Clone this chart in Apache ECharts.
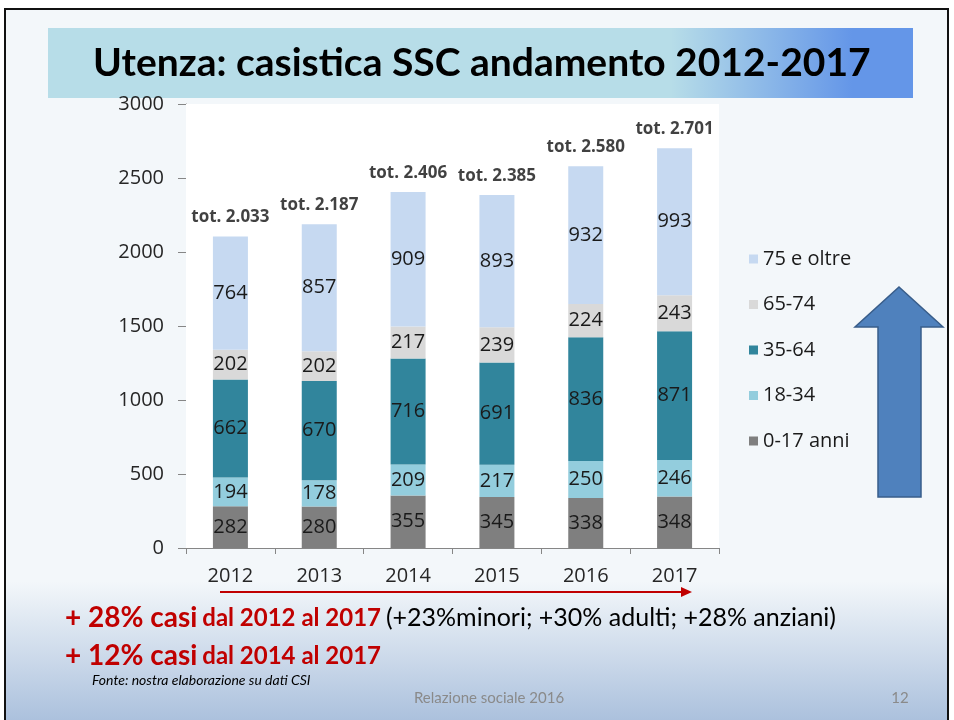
<!DOCTYPE html>
<html>
<head>
<meta charset="utf-8">
<script src="https://cdn.jsdelivr.net/npm/echarts@6/dist/echarts.min.js"></script>
<style>
html,body{margin:0;padding:0;background:#fff}
#main{width:954px;height:720px}
</style>
</head>
<body>
<div id="main"></div>
<script>
// dati
var anni = ['2012', '2013', '2014', '2015', '2016', '2017'];
var eta0_17 = [282, 280, 355, 345, 338, 348];
var eta18_34 = [194, 178, 209, 217, 250, 246];
var eta35_64 = [662, 670, 716, 691, 836, 871];
var eta65_74 = [202, 202, 217, 239, 224, 243];
var eta75 = [764, 857, 909, 893, 932, 993];
var totali = ['tot. 2.033', 'tot. 2.187', 'tot. 2.406', 'tot. 2.385', 'tot. 2.580', 'tot. 2.701'];
var fasce = ['0-17 anni', '18-34', '35-64', '65-74', '75 e oltre'];
var colori = ['#7f7f7f', '#93cddd', '#31859c', '#d9d9d9', '#c6d9f1'];

var fontChart = '"Open Sans", sans-serif';
var fontSlide = 'Lato, sans-serif';

var valori = [eta0_17, eta18_34, eta35_64, eta65_74, eta75];

// altezza della pila per posizionare le etichette "tot."
var pila = anni.map(function (a, i) {
    return [a, valori.reduce(function (s, v) { return s + v[i]; }, 0)];
});

var series = fasce.map(function (nome, k) {
    return {
        name: nome,
        type: 'bar',
        stack: 'utenza',
        barWidth: 35,
        data: valori[k],
        itemStyle: {color: colori[k]},
        label: {
            show: true,
            position: 'inside',
            color: '#1a1a1a',
            fontSize: 20,
            fontFamily: fontChart
        }
    };
});

series.push({
    name: 'totale',
    type: 'scatter',
    data: pila,
    symbolSize: 1,
    itemStyle: {color: 'rgba(0,0,0,0)'},
    label: {
        show: true,
        position: 'top',
        distance: 10,
        color: '#111',
        fontSize: 17,
        fontWeight: 'bold',
        fontFamily: fontChart,
        formatter: function (p) { return totali[p.dataIndex]; }
    },
    z: 5
});

var dom = document.getElementById('main');
var myChart = echarts.init(dom);

var option = {
    backgroundColor: '#ffffff',
    animation: false,
    grid: {
        left: 186, right: 235, top: 104, bottom: 172,
        show: true,
        backgroundColor: '#ffffff',
        borderWidth: 0,
        z: 1
    },
    legend: {
        orient: 'vertical',
        left: 744,
        top: 244,
        icon: 'rect',
        itemWidth: 9,
        itemHeight: 9,
        itemGap: 25.5,
        data: ['75 e oltre', '65-74', '35-64', '18-34', '0-17 anni'],
        textStyle: {fontSize: 20, color: '#1a1a1a', fontFamily: fontChart}
    },
    xAxis: {
        type: 'category',
        data: anni,
        axisLine: {lineStyle: {color: '#868686'}},
        axisTick: {show: true, length: 6, lineStyle: {color: '#868686'}},
        axisLabel: {color: '#262626', fontSize: 20, margin: 18, fontFamily: fontChart}
    },
    yAxis: {
        type: 'value',
        min: 0,
        max: 3000,
        interval: 500,
        axisLine: {show: true, lineStyle: {color: '#868686'}},
        axisTick: {show: true, length: 8, lineStyle: {color: '#868686'}},
        splitLine: {lineStyle: {color: '#8c8c8c'}},
        axisLabel: {
            color: '#262626', fontSize: 20, margin: 22, fontFamily: fontChart,
            formatter: function (v) { return String(v); }
        }
    },
    series: series,
    graphic: [
        {
            type: 'rect', z: -100, silent: true,
            shape: {x: 5, y: 9, width: 943, height: 715},
            style: {
                fill: new echarts.graphic.LinearGradient(0, 0, 0, 1, [
                    {offset: 0, color: '#f3f7fa'},
                    {offset: 0.8, color: '#f3f7fa'},
                    {offset: 1, color: '#a9bfdc'}
                ]),
                stroke: '#111', lineWidth: 2
            }
        },
        {
            type: 'rect', z: -90, silent: true,
            shape: {x: 48, y: 28, width: 865, height: 70},
            style: {
                fill: new echarts.graphic.LinearGradient(0, 0, 1, 0, [
                    {offset: 0, color: '#b7dde8'},
                    {offset: 0.72, color: '#b7dde8'},
                    {offset: 0.93, color: '#6496e8'},
                    {offset: 1, color: '#6496e8'}
                ])
            }
        },
        {
            type: 'text', z: 10,
            style: {
                x: 93, y: 63, text: 'Utenza: casistica SSC andamento 2012-2017',
                font: 'bold 39px ' + fontSlide, fill: '#000', textVerticalAlign: 'middle'
            }
        },
        // freccia rossa sotto l'asse
        {
            type: 'line', z: 10,
            shape: {x1: 220, y1: 592, x2: 684, y2: 592},
            style: {stroke: '#c00000', lineWidth: 2}
        },
        {
            type: 'polygon', z: 10,
            shape: {points: [[681, 587], [692, 592], [681, 597]]},
            style: {fill: '#c00000'}
        },
        // freccia blu
        {
            type: 'polygon', z: 10,
            shape: {points: [[899, 287], [943, 327], [921, 327], [921, 497], [878, 497], [878, 327], [855, 327]]},
            style: {fill: '#4f81bd', stroke: '#385d8a', lineWidth: 1.5}
        },
        {
            type: 'text', z: 10,
            style: {
                x: 65, y: 618, textVerticalAlign: 'middle',
                text: '{a|+ 28% casi} {s| }{b|dal 2012 al 2017} {s| }{c|(+23%minori; +30% adulti; +28% anziani)}',
                rich: {
                    a: {font: 'bold 28px ' + fontSlide, fill: '#c00000'},
                    b: {font: 'bold 24px ' + fontSlide, fill: '#c00000'},
                    c: {font: '25px ' + fontSlide, fill: '#000'},
                    s: {font: '6px ' + fontSlide}
                }
            }
        },
        {
            type: 'text', z: 10,
            style: {
                x: 65, y: 656, textVerticalAlign: 'middle',
                text: '{a|+ 12% casi} {s| }{b|dal 2014 al 2017}',
                rich: {
                    a: {font: 'bold 28px ' + fontSlide, fill: '#c00000'},
                    b: {font: 'bold 24px ' + fontSlide, fill: '#c00000'},
                    s: {font: '6px ' + fontSlide}
                }
            }
        },
        {
            type: 'text', z: 10,
            style: {
                x: 92, y: 680, text: 'Fonte: nostra elaborazione su dati CSI',
                font: 'italic 14px ' + fontSlide, fill: '#000', textVerticalAlign: 'middle'
            }
        },
        {
            type: 'text', z: 10,
            style: {
                x: 489, y: 698, text: 'Relazione sociale 2016', textAlign: 'center',
                font: '15px ' + fontSlide, fill: '#8a8a8a', textVerticalAlign: 'middle'
            }
        },
        {
            type: 'text', z: 10,
            style: {
                x: 900, y: 698, text: '12', textAlign: 'center',
                font: '15px ' + fontSlide, fill: '#8a8a8a', textVerticalAlign: 'middle'
            }
        }
    ]
};

if (option && typeof option === 'object') {
    myChart.setOption(option, true);
}
</script>
</body>
</html>
